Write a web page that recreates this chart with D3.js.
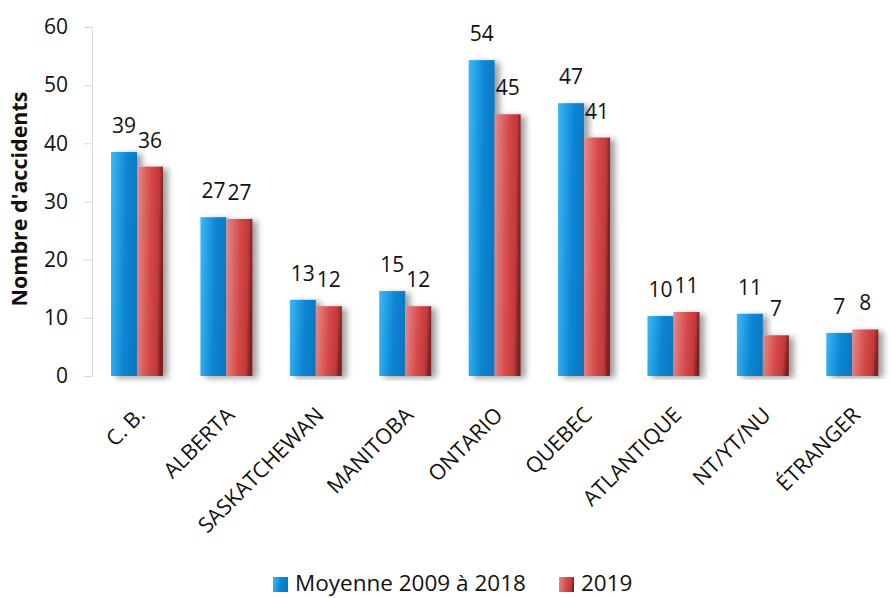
<!DOCTYPE html>
<html><head><meta charset="utf-8">
<script src="https://cdn.jsdelivr.net/npm/d3@7"></script>
<style>body{margin:0;background:#fff}svg{display:block;font-family:"Open Sans",sans-serif}</style>
</head><body>
<script>
const categories = ["C. B.","ALBERTA","SASKATCHEWAN","MANITOBA","ONTARIO","QUEBEC","ATLANTIQUE","NT/YT/NU","ÉTRANGER"];
const moyenne = [38.5,27.3,13.1,14.6,54.3,46.9,10.3,10.7,7.4];
const moyenneLabels = ["39","27","13","15","54","47","10","11","7"];
const an2019 = [36,27,12,12,45,41,11,7,8];
const an2019Labels = ["36","27","12","12","45","41","11","7","8"];
const yTicks = [0,10,20,30,40,50,60];
const seriesNames = ["Moyenne 2009 à 2018","2019"];

const W=890,H=598;
const svg=d3.select("body").append("svg").attr("width",W).attr("height",H);
const defs=svg.append("defs");
const gb=defs.append("linearGradient").attr("id","gBlue").attr("x1","0").attr("y1","0").attr("x2","1").attr("y2","0.15");
gb.append("stop").attr("offset","0").attr("stop-color","#3db8f8");
gb.append("stop").attr("offset","0.6").attr("stop-color","#0c86d2");
gb.append("stop").attr("offset","1").attr("stop-color","#0a78c2");
const gr=defs.append("linearGradient").attr("id","gRed").attr("x1","0").attr("y1","0").attr("x2","1").attr("y2","0.12");
gr.append("stop").attr("offset","0").attr("stop-color","#e48a8a");
gr.append("stop").attr("offset","0.55").attr("stop-color","#d64848");
gr.append("stop").attr("offset","0.85").attr("stop-color","#c03a3a");
gr.append("stop").attr("offset","1").attr("stop-color","#7c2222");
const f=defs.append("filter").attr("id","sh").attr("x","-20%").attr("y","-5%").attr("width","160%").attr("height","110%");
f.append("feDropShadow").attr("dx",5).attr("dy",2).attr("stdDeviation",3).attr("flood-color","#000").attr("flood-opacity",0.38);
const fa=defs.append("filter").attr("id","sha").attr("x","-5%").attr("y","-200%").attr("width","110%").attr("height","500%");
fa.append("feDropShadow").attr("dx",0).attr("dy",2).attr("stdDeviation",1.5).attr("flood-color","#000").attr("flood-opacity",0.2);

const x=d3.scaleBand().domain(categories).range([92.3,897]).padding(0);
const y=d3.scaleLinear().domain([0,60]).range([376,27]);
const bw=26;

// y axis
const ya=svg.append("g").attr("transform","translate(92,0)")
  .call(d3.axisLeft(y).tickValues(yTicks).tickSize(8).tickPadding(16).tickFormat(d3.format("d")));
ya.select(".domain").attr("stroke","#d9d9d9");
ya.selectAll(".tick line").attr("stroke","#d9d9d9");
ya.selectAll(".tick text").attr("font-size",21).attr("fill","#111").attr("font-family","Open Sans");

// bars
const g=svg.append("g");
categories.forEach((c,i)=>{
  const cx=x(c)+x.bandwidth()/2;
  const gg=g.append("g").attr("filter","url(#sh)");
  gg.append("rect").attr("x",cx-bw).attr("width",bw).attr("y",y(moyenne[i])).attr("height",y(0)-y(moyenne[i])).attr("fill","url(#gBlue)");
  gg.append("rect").attr("x",cx).attr("width",bw).attr("y",y(an2019[i])).attr("height",y(0)-y(an2019[i])).attr("fill","url(#gRed)");
});
// x axis line
svg.append("line").attr("x1",84).attr("x2",890).attr("y1",376.5).attr("y2",376.5).attr("stroke","#d4d4d4").attr("stroke-width",2).attr("filter","url(#sha)");

// labels
categories.forEach((c,i)=>{
  const cx=x(c)+x.bandwidth()/2;
  svg.append("text").attr("x",cx-bw/2).attr("y",y(moyenne[i])-19).attr("text-anchor","middle").attr("font-size",21).attr("fill","#111").text(moyenneLabels[i]);
  svg.append("text").attr("x",cx+bw/2).attr("y",y(an2019[i])-19).attr("text-anchor","middle").attr("font-size",21).attr("fill","#111").text(an2019Labels[i]);
  svg.append("text").attr("transform",`translate(${cx+4},411) rotate(-45)`).attr("text-anchor","end").attr("dy","0.35em").attr("font-size",21.5).attr("fill","#111").text(c);
});

// y title
svg.append("text").attr("transform","translate(19,199) rotate(-90)").attr("text-anchor","middle").attr("dy","0.35em")
  .attr("font-size",21.5).attr("font-weight","bold").attr("fill","#111").text("Nombre d'accidents");

// legend
const leg=[{x:273,fill:"url(#gBlue)",t:seriesNames[0]},{x:559,fill:"url(#gRed)",t:seriesNames[1]}];
leg.forEach(l=>{
  svg.append("rect").attr("x",l.x).attr("y",577).attr("width",15).attr("height",15).attr("fill",l.fill);
  svg.append("text").attr("x",l.x+22).attr("y",591).attr("font-size",22.5).attr("fill","#111").text(l.t);
});
</script>
</body></html>
